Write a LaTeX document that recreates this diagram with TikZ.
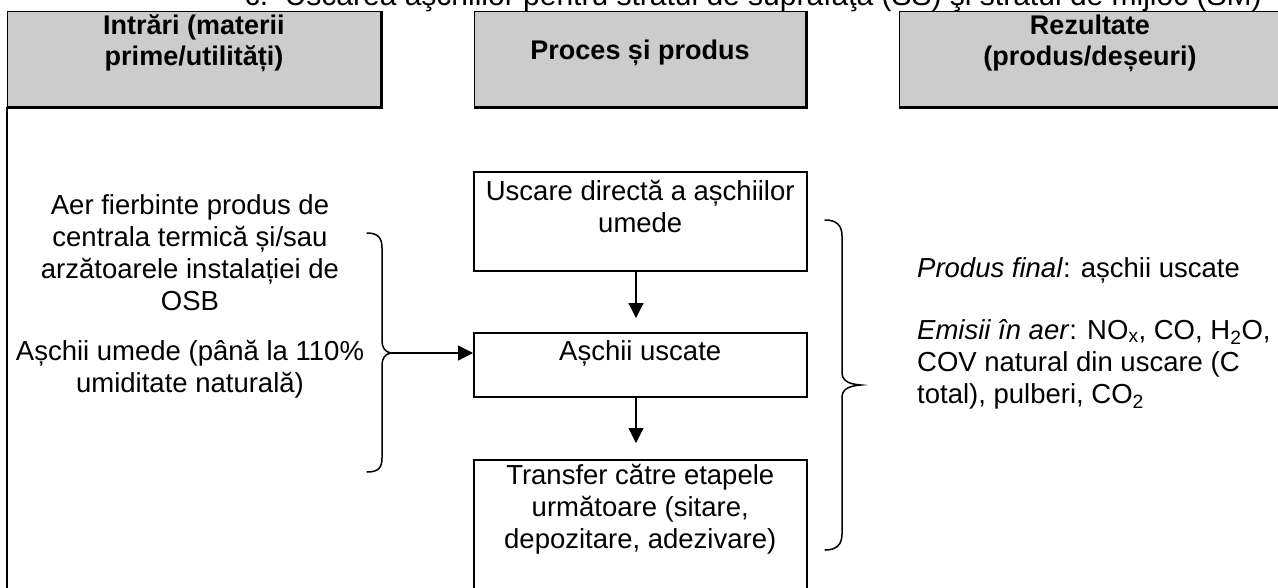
\documentclass[tikz,border=0pt]{standalone}
\usepackage{fontspec}
\setmainfont{Liberation Sans}
\usetikzlibrary{arrows.meta}
\begin{document}
\begin{tikzpicture}[x=1pt,y=-1pt,
  body/.style={font=\fontsize{27.5}{32}\selectfont, align=center, inner sep=0pt},
  hdtext/.style={font=\bfseries\fontsize{27}{31}\selectfont, align=center, inner sep=0pt},
  hdrbox/.style={fill=black!20, draw=none, inner sep=0pt, anchor=north west},
  procbox/.style={draw, line width=1.5pt, inner sep=0pt, anchor=north west, minimum width=333pt},
  brace/.style={line width=1.5pt, line cap=round},
  arr/.style={line width=1.2pt, -{Triangle[width=15pt,length=15pt]}}
]
\useasboundingbox (0,0) rectangle (1278,587);
\clip (0,0) rectangle (1278,587);
% title (cut off at top, as in the reference)
\node[font=\fontsize{30}{34}\selectfont, anchor=base east, inner sep=0pt] (title) at (1262,5)
  {c.\ \ Uscarea aşchiilor pentru stratul de suprafaţă (SS) şi stratul de mijloc (SM)};
% header boxes
\node[hdrbox, minimum width=374pt, minimum height=96pt] (h1) at (7,11) {};
\node[hdrbox, minimum width=332pt, minimum height=96pt] (h2) at (474,11) {};
\node[hdrbox, minimum width=400pt, minimum height=96pt] (h3) at (899,11) {};
\foreach \h in {h1,h2,h3}{
  \draw[line width=1pt] (\h.south west) -- (\h.north west) -- (\h.north east);
  \draw[line width=2.5pt] (\h.south west) -- (\h.south east) -- (\h.north east);
}
\draw[line width=1.2pt] (h1.south west) -- (7,590);
\node[hdtext, anchor=base] (t1) at (194,65) {Intrări (materii\\prime/utilități)};
\node[hdtext, anchor=base] (t2) at (640,59) {Proces și produs};
\node[hdtext, anchor=base] (t3) at (1090,65) {Rezultate\\(produs/deșeuri)};
% process boxes
\node[procbox, minimum height=99pt] (p1) at (473,171) {};
\node[procbox, minimum height=64pt] (p2) at (473,332) {};
\node[procbox, minimum height=150pt] (p3) at (473,459) {};
\node[body, anchor=north] (p1t) at (p1.north) [yshift=-9pt] {Uscare directă a așchiilor\\umede};
\node[body, anchor=north] (p2t) at (p2.north) [yshift=-8pt] {Așchii uscate};
\node[body, anchor=north] (p3t) at (p3.north) [yshift=-5pt] {Transfer către etapele\\următoare (sitare,\\depozitare, adezivare)};
\draw[arr, shorten >=14pt] (p1.south -| 636,0) -- (p2.north -| 636,0);
\draw[arr, shorten >=16pt] (p2.south -| 636,0) -- (p3.north -| 636,0);
% inputs
\node[body, anchor=north] (in) at (190,194) {Aer fierbinte produs de\\centrala termică și/sau\\arzătoarele instalației de\\OSB\\[18pt]Așchii umede (până la 110\%\\umiditate naturală)};
% left brace
\coordinate (lb) at (391,353);
\draw[brace] (367,233) .. controls (378,233) and (382,238) .. (382,248) -- (382,340)
  .. controls (382,348) and (385,352) .. (lb) .. controls (385,354) and (382,358) .. (382,366)
  -- (382,458) .. controls (382,468) and (378,472) .. (367,472);
\draw[arr] (lb) -- (p2.west |- lb);
% right brace
\coordinate (rb) at (861,385);
\draw[brace] (825,220) .. controls (836,220) and (842,225) .. (842,236) -- (842,372)
  .. controls (842,380) and (847,384) .. (rb) .. controls (847,386) and (842,390) .. (842,398)
  -- (842,534) .. controls (842,545) and (836,550) .. (825,550);
% outputs
\node[body, anchor=north west, align=left] (out) at (917,257)
  {\textit{Produs final}: așchii uscate\\[30pt]\textit{Emisii în aer}: NO\textsubscript{x}, CO, H\textsubscript{2}O,\\COV natural din uscare (C\\total), pulberi, CO\textsubscript{2}};
\end{tikzpicture}
\end{document}
